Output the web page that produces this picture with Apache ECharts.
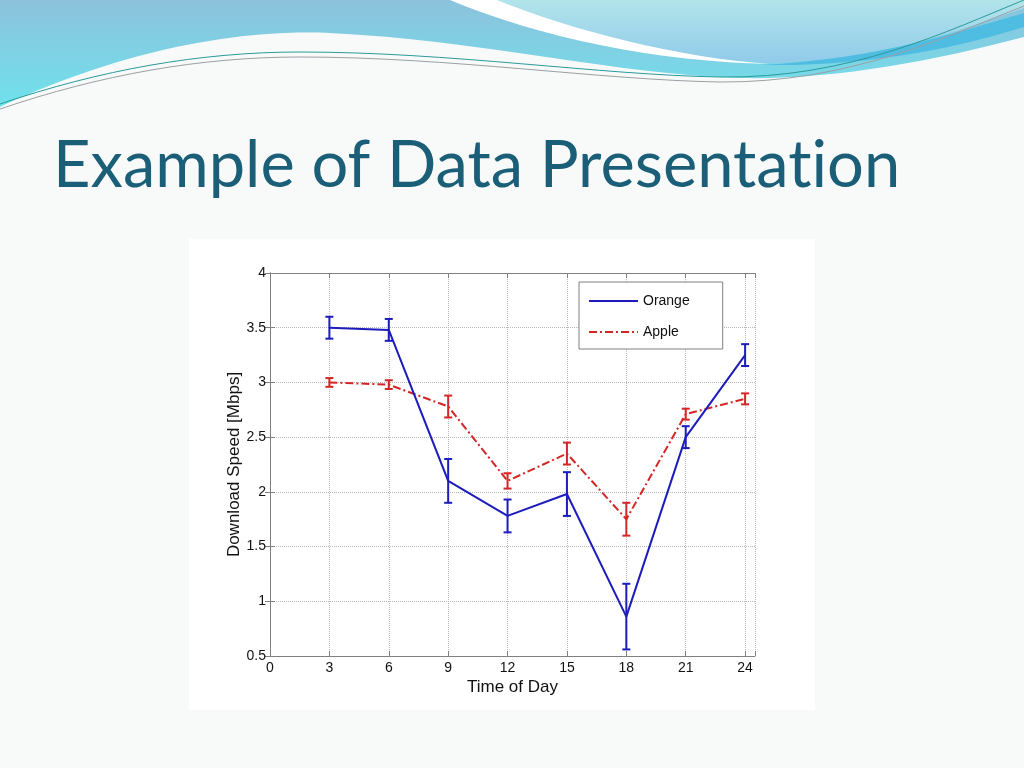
<!DOCTYPE html>
<html>
<head>
<meta charset="utf-8">
<script src="https://cdn.jsdelivr.net/npm/echarts@6/dist/echarts.min.js"></script>
<style>
html,body{margin:0;padding:0;background:#f8fafa;}
#c{width:1024px;height:768px;}
</style>
</head>
<body>
<div id="c"></div>
<script>
var hours = [3, 6, 9, 12, 15, 18, 21, 24];
var orangeMean = [3.50, 3.48, 2.10, 1.78, 1.98, 0.86, 2.50, 3.25];
var orangeErr  = [0.10, 0.10, 0.20, 0.15, 0.20, 0.30, 0.10, 0.10];
var appleMean  = [3.00, 2.98, 2.78, 2.10, 2.35, 1.75, 2.71, 2.85];
var appleErr   = [0.04, 0.04, 0.10, 0.07, 0.10, 0.15, 0.05, 0.05];
var xTicks = [0, 3, 6, 9, 12, 15, 18, 21, 24];
var yTicks = [0.5, 1, 1.5, 2, 2.5, 3, 3.5, 4];
var titleText = 'Example of Data Presentat\u200Cion';

var BLUE = '#1c1cbc', RED = '#d42626';

function pairs(xs, ys){ return xs.map(function(x,i){ return [x, ys[i]]; }); }
function errRows(xs, m, e){ return xs.map(function(x,i){ return [x, m[i]-e[i], m[i]+e[i]]; }); }
function vgrad(c0, c1){ return {type:'linear', x:0, y:0, x2:0, y2:1, colorStops:[{offset:0,color:c0},{offset:1,color:c1}]}; }

function errRender(color){
  return function(params, api){
    var x = api.value(0);
    var lo = api.coord([x, api.value(1)]);
    var hi = api.coord([x, api.value(2)]);
    var w = 4;
    var st = {stroke: color, lineWidth: 2};
    return {type:'group', children:[
      {type:'line', shape:{x1:lo[0], y1:lo[1], x2:hi[0], y2:hi[1]}, style:st},
      {type:'line', shape:{x1:lo[0]-w, y1:lo[1], x2:lo[0]+w, y2:lo[1]}, style:st},
      {type:'line', shape:{x1:hi[0]-w, y1:hi[1], x2:hi[0]+w, y2:hi[1]}, style:st}
    ]};
  };
}

function decoRender(){
  return {type:'group', children:[
    {type:'path', shape:{pathData:'M0,0 L1024,0 L1024,37 C930,62 830,80 740,78 C620,75 480,40 330,33 C200,28 80,70 0,107 Z', x:0, y:0, width:1024, height:107},
      style:{fill:vgrad('#8cc2dc','#6fe2ec')}},
    {type:'path', shape:{pathData:'M497,0 C580,35 680,60 775,63 C880,60 960,30 1024,8 L1024,0 Z', x:497, y:0, width:527, height:63},
      style:{fill:vgrad('#b2e4ea','#90cbea')}},
    {type:'path', shape:{pathData:'M450,0 C540,38 660,62 770,64 C680,58 570,30 497,0 Z', x:450, y:0, width:320, height:64},
      style:{fill:'#ffffff'}},
    {type:'path', shape:{pathData:'M760,64 C880,58 960,30 1024,12 L1024,26 C960,46 870,66 760,64 Z', x:760, y:12, width:264, height:54},
      style:{fill:'#4fbde2'}},
    {type:'path', shape:{pathData:'M0,104 C100,70 200,52 300,52 C450,52 600,75 720,77 C850,79 950,30 1024,0', x:0, y:0, width:1024, height:104},
      style:{fill:'none', stroke:'#2a9a9a', lineWidth:1}},
    {type:'path', shape:{pathData:'M0,109 C100,75 200,57 300,57 C450,57 600,80 720,82 C850,83 950,35 1024,6', x:0, y:6, width:1024, height:103},
      style:{fill:'none', stroke:'#9aa0a4', lineWidth:1}},
    {type:'rect', shape:{x:189, y:239, width:626, height:471}, style:{fill:'#ffffff'}}
  ]};
}

var FONT = 'Liberation Sans';
var chart = echarts.init(document.getElementById('c'));
var baseAxis = {
  axisLine:{show:true, lineStyle:{color:'#808080', width:1}},
  axisTick:{show:true, inside:true, length:5, lineStyle:{color:'#808080'}},
  splitLine:{show:false}
};

chart.setOption({
  animation:false,
  backgroundColor:'#f8fafa',
  graphic:[
    {type:'text', z:10, left:53, top:134, style:{text:titleText, font:'65px Lato', fill:'#1a5e78'}}
  ],
  grid:{left:270, right:269, top:273, bottom:112, containLabel:false},
  legend:{
    orient:'vertical', left:579, top:282, z:20,
    padding:[12, 33, 10, 9], itemGap:17, itemWidth:49, itemHeight:14,
    borderColor:'#808080', borderWidth:1, backgroundColor:'#ffffff',
    itemStyle:{opacity:0},
    textStyle:{fontFamily:FONT, fontSize:14, color:'#111'},
    data:['Orange','Apple']
  },
  xAxis:[
    Object.assign({}, baseAxis, {type:'value', min:0, max:24.5, interval:3, position:'bottom',
      name:'Time of Day', nameLocation:'middle', nameGap:23,
      nameTextStyle:{fontFamily:FONT, fontSize:17, color:'#111'},
      axisLabel:{fontFamily:FONT, fontSize:14, color:'#111', margin:5,
        formatter:function(v){ return xTicks.indexOf(v) >= 0 ? String(v) : ''; }},
      splitLine:{show:true, lineStyle:{color:'#b8b8b8', type:'dotted', width:1}}}),
    Object.assign({}, baseAxis, {type:'value', min:0, max:24.5, interval:3, position:'top',
      axisLabel:{show:false}})
  ],
  yAxis:[
    Object.assign({}, baseAxis, {type:'value', min:0.5, max:4, interval:0.5, position:'left',
      name:'Download Speed [Mbps]', nameLocation:'middle', nameGap:27,
      nameTextStyle:{fontFamily:FONT, fontSize:17, color:'#111'},
      axisLabel:{fontFamily:FONT, fontSize:14, color:'#111', margin:4,
        formatter:function(v){ return yTicks.indexOf(v) >= 0 ? String(v) : ''; }},
      splitLine:{show:true, lineStyle:{color:'#b8b8b8', type:'dotted', width:1}}}),
    Object.assign({}, baseAxis, {type:'value', min:0.5, max:4, interval:0.5, position:'right',
      axisLabel:{show:false}})
  ],
  series:[
    {name:'deco', type:'custom', coordinateSystem:'none', data:[[0]], z:-10, silent:true,
      renderItem:decoRender},
    {name:'Apple', type:'line', data:pairs(hours, appleMean), symbol:'none', z:3,
      lineStyle:{color:RED, width:2, type:[8,3,2,3]}, itemStyle:{color:RED}},
    {name:'Orange', type:'line', data:pairs(hours, orangeMean), symbol:'none', z:4,
      lineStyle:{color:BLUE, width:2, type:'solid'}, itemStyle:{color:BLUE}},
    {name:'AppleErr', type:'custom', data:errRows(hours, appleMean, appleErr), z:3,
      renderItem:errRender(RED), encode:{x:0, y:[1,2]}},
    {name:'OrangeErr', type:'custom', data:errRows(hours, orangeMean, orangeErr), z:4,
      renderItem:errRender(BLUE), encode:{x:0, y:[1,2]}}
  ]
});
</script>
</body>
</html>
